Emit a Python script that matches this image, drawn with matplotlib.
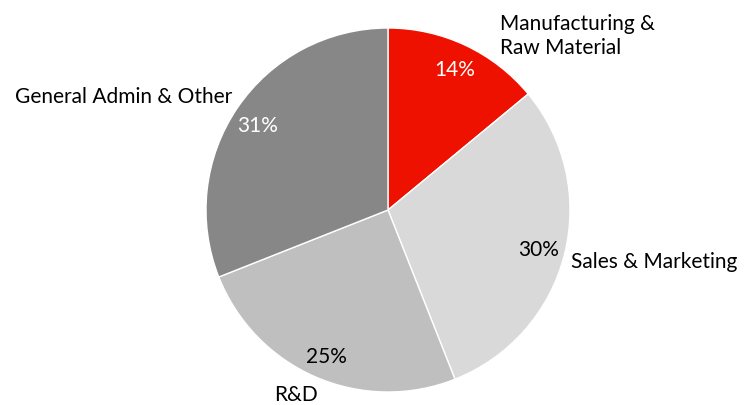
import matplotlib
matplotlib.use("Agg")
import matplotlib.pyplot as plt

categories = ["Manufacturing &\nRaw Material", "Sales & Marketing", "R&D", "General Admin & Other"]
values = [14, 30, 25, 31]
colors = ["#EE1100", "#D9D9D9", "#BFBFBF", "#878787"]
pct_colors = ["white", "black", "black", "white"]

W, H = 754, 405
fig = plt.figure(figsize=(W / 100, H / 100), dpi=100)
ax = fig.add_axes([0, 0, 1, 1])

cx, cy, r = 388, 210, 182
wedges, _ = ax.pie(values, colors=colors, startangle=90, counterclock=False,
                   center=(cx, -cy), radius=r,
                   wedgeprops=dict(edgecolor="white", linewidth=1))
ax.set_xlim(0, W)
ax.set_ylim(-H, 0)
ax.set_aspect("equal")
ax.axis("off")

font = "Lato"
fs = 15
pct_pos = [(455, 70), (539, 250), (326, 357), (258, 126)]
lab_pos = [(500, 36, "left"), (571, 262, "left"), (274, 395, "left"), (15, 97, "left")]

for v, c, (px, py) in zip(values, pct_colors, pct_pos):
    ax.text(px, -py, f"{v}%", color=c, fontsize=fs, family=font, ha="center", va="center")
for lab, (lx, ly, ha) in zip(categories, lab_pos):
    ax.text(lx, -ly, lab, color="black", fontsize=fs, family=font, ha=ha, va="center",
            linespacing=1.25)

fig.savefig("out.png", dpi=100)
